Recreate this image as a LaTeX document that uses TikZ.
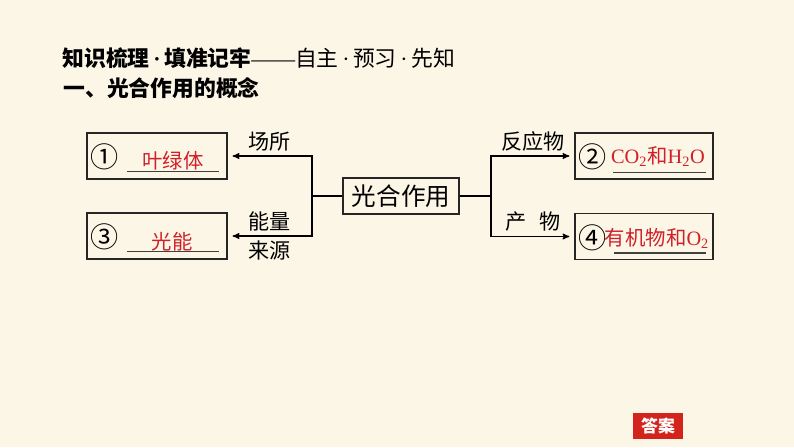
\documentclass[tikz,border=0pt]{standalone}
\usepackage{fontspec}
\setmainfont{Liberation Serif}
\newfontfamily\cjk{Noto Sans CJK SC}
\newfontfamily\latin{Liberation Serif}
\newcommand{\mdot}{{\latin\,·\,}}
\usepackage{xcolor}
\usetikzlibrary{arrows,positioning}
\definecolor{paper}{RGB}{252,246,230}
\definecolor{fillred}{RGB}{208,32,42}
\definecolor{btnred}{RGB}{210,36,28}
\tikzset{
  every picture/.style = {
    >=stealth',
    line width = 0.8pt,
  }
  ,
  slot/.style = {
    rectangle,
    draw = black!85,
    minimum width = 3.5cm,
    minimum height = 1.15cm
  }
  ,
  hubbox/.style = {
    rectangle,
    draw = black!85,
    font = \cjk\fontsize{17.5}{20}\selectfont,
    minimum width = 2.9cm,
    minimum height = 0.9cm,
    inner sep = 1pt
  }
  , % circled numbers
  num/.style = {
    font = \cjk\fontsize{20}{22}\selectfont,
    inner sep = 0pt
  }
  , % filled-in answers
  answer/.style = {
    text = fillred,
    font = \fontsize{14.5}{17}\selectfont,
    anchor = base,
    inner sep = 0pt
  }
  ,
  blank/.style = {
    draw = black!75,
    line width = 0.9pt
  }
  , % labels of edges
  label-edge/.style = {
    font = \cjk\fontsize{15}{18}\selectfont,
    inner sep = 3pt
  }
  ,
  heading/.style = {
    anchor = west,
    inner sep = 0pt,
    font = \cjk\fontsize{15.5}{18}\selectfont
  }
}

\begin{document}
\begin{tikzpicture}[x=0.025cm, y=-0.025cm]
  \fill[paper] (0,0) rectangle (794,447);
  \useasboundingbox (0,0) rectangle (794,447);

  \node[heading] (t1) at (62,58)
    {{\bfseries 知识梳理\mdot 填准记牢}{\latin ——}自主\mdot 预习\mdot 先知};
  \node[heading] (t2) at (63,88) {\bfseries 一、光合作用的概念};

  \node[hubbox] (hub) at (401,196) {光合作用};
  \node[slot] (b1) at (157,156) {};
  \node[slot] (b3) at (157,236) {};
  \node[slot, minimum width = 3.45cm] (b2) at (644,156) {};
  \node[slot, minimum width = 3.45cm] (b4) at (644,236.5) {};

  % box contents
  \node[num] (n1) at (105,157) {①};
  \node[num] (n3) at (105,237) {③};
  \node[num] (n2) at (593,157) {②};
  \node[num] (n4) at (593,238) {④};
  \node[answer] (a1) at (173,168) {\cjk 叶绿体};
  \node[answer] (a3) at (172,249) {\cjk 光能};
  \node[answer] (a2) at (658,163) {CO\textsubscript{2}{\cjk 和}H\textsubscript{2}O};
  \node[answer] (a4) at (657,245) {{\cjk 有机物和}O\textsubscript{2}};
  \draw[blank] ([shift={(41,-8)}]b1.south west) -- ([shift={(133,-8)}]b1.south west);
  \draw[blank] ([shift={(41,-8)}]b3.south west) -- ([shift={(133,-8)}]b3.south west);
  \draw[blank] ([shift={(39,-7)}]b2.south west) -- ([shift={(132,-7)}]b2.south west);
  \draw[blank] ([shift={(40,-7)}]b4.south west) -- ([shift={(132,-7)}]b4.south west);

  % branches
  \coordinate (lj) at (312,196);
  \coordinate (rj) at (491,196);
  \draw (hub.west) -- (lj);
  \draw (hub.east) -- (rj);
  \draw[->, shorten >= 0.125cm] (lj) |- (b1.east)
    node[label-edge, pos=0.75, above] {场所};
  \draw[->, shorten >= 0.125cm] (lj) |- (b3.east)
    node[label-edge, pos=0.75, above] {能量}
    node[label-edge, pos=0.75, below] {来源};
  \draw[->, shorten >= 0.125cm] (rj) |- (b2.west)
    node[label-edge, pos=0.75, above] {反应物};
  \draw[->, shorten >= 0.125cm] (rj) |- (b4.west)
    node[label-edge, pos=0.75, above] {产\hspace{0.6em}物};

  \node[fill=btnred, text=white, minimum width=1.25cm, minimum height=0.55cm,
        font=\cjk\bfseries\fontsize{12}{14}\selectfont] (ans) at (658,426) {答案};
\end{tikzpicture}
\end{document}
